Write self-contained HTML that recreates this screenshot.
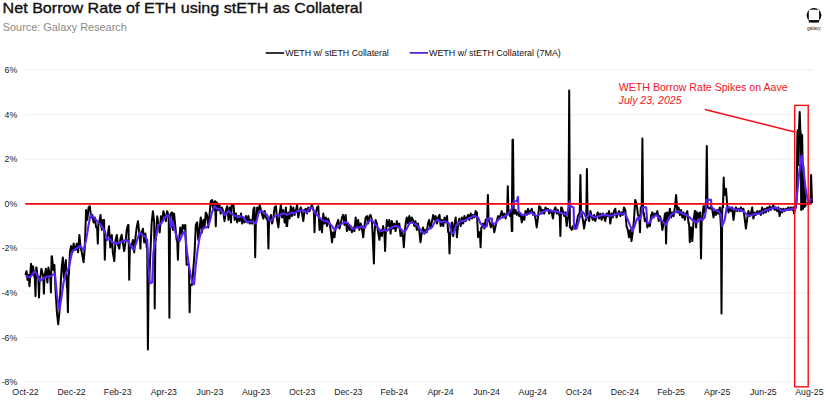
<!DOCTYPE html>
<html lang="en"><head><meta charset="utf-8"><title>Net Borrow Rate of ETH using stETH as Collateral</title>
<style>
html,body{margin:0;padding:0;background:#fff;}
svg{display:block;font-family:"Liberation Sans",Arial,sans-serif;}
.ax text{font-size:8.75px;fill:#1a1a1a;}
</style></head><body>
<svg width="826" height="404" viewBox="0 0 826 404">
<rect width="826" height="404" fill="#fff"/>
<text x="2.6" y="13.2" font-size="14.6" fill="#111" stroke="#111" stroke-width="0.35" textLength="359.8" lengthAdjust="spacingAndGlyphs">Net Borrow Rate of ETH using stETH as Collateral</text>
<text x="2.8" y="30.9" font-size="11.6" fill="#8a8a8a" textLength="124" lengthAdjust="spacingAndGlyphs">Source: Galaxy Research</text>
<g id="logo">
<circle cx="814" cy="15.3" r="7.4" fill="#0a0a0a"/>
<rect x="808.8" y="9.7" width="10.3" height="10.6" fill="#fff"/>
<rect x="808.8" y="20.3" width="10.3" height="2.4" fill="#0a0a0a"/>
<rect x="806" y="22.7" width="16" height="1.5" fill="#fff"/>
<text x="806.9" y="29.7" font-size="4.8" fill="#222" textLength="13.7" lengthAdjust="spacingAndGlyphs">galaxy</text>
</g>
<g stroke="#ececec" stroke-width="0.9"><line x1="25.2" x2="813.5" y1="70.12" y2="70.12"/><line x1="25.2" x2="813.5" y1="114.68" y2="114.68"/><line x1="25.2" x2="813.5" y1="159.24" y2="159.24"/><line x1="25.2" x2="813.5" y1="203.80" y2="203.80"/><line x1="25.2" x2="813.5" y1="248.36" y2="248.36"/><line x1="25.2" x2="813.5" y1="292.92" y2="292.92"/><line x1="25.2" x2="813.5" y1="337.48" y2="337.48"/><line x1="25.2" x2="813.5" y1="382.04" y2="382.04"/></g>
<g class="ax"><text x="17.2" y="73.22" text-anchor="end">6%</text><text x="17.2" y="117.78" text-anchor="end">4%</text><text x="17.2" y="162.34" text-anchor="end">2%</text><text x="17.2" y="206.90" text-anchor="end">0%</text><text x="17.2" y="251.46" text-anchor="end">-2%</text><text x="17.2" y="296.02" text-anchor="end">-4%</text><text x="17.2" y="340.58" text-anchor="end">-6%</text><text x="17.2" y="385.14" text-anchor="end">-8%</text><text x="25.50" y="394.9" text-anchor="middle">Oct-22</text><text x="71.61" y="394.9" text-anchor="middle">Dec-22</text><text x="117.72" y="394.9" text-anchor="middle">Feb-23</text><text x="163.84" y="394.9" text-anchor="middle">Apr-23</text><text x="209.95" y="394.9" text-anchor="middle">Jun-23</text><text x="256.06" y="394.9" text-anchor="middle">Aug-23</text><text x="302.17" y="394.9" text-anchor="middle">Oct-23</text><text x="348.28" y="394.9" text-anchor="middle">Dec-23</text><text x="394.39" y="394.9" text-anchor="middle">Feb-24</text><text x="440.51" y="394.9" text-anchor="middle">Apr-24</text><text x="486.62" y="394.9" text-anchor="middle">Jun-24</text><text x="532.73" y="394.9" text-anchor="middle">Aug-24</text><text x="578.84" y="394.9" text-anchor="middle">Oct-24</text><text x="624.95" y="394.9" text-anchor="middle">Dec-24</text><text x="671.06" y="394.9" text-anchor="middle">Feb-25</text><text x="717.18" y="394.9" text-anchor="middle">Apr-25</text><text x="763.29" y="394.9" text-anchor="middle">Jun-25</text><text x="809.40" y="394.9" text-anchor="middle">Aug-25</text></g>
<line x1="265.7" x2="284.2" y1="53" y2="53" stroke="#000" stroke-width="1.6"/>
<text x="285.2" y="56" font-size="8.8" fill="#111" textLength="103.6" lengthAdjust="spacingAndGlyphs">WETH w/ stETH Collateral</text>
<line x1="409.7" x2="428" y1="52.9" y2="52.9" stroke="#4f18dc" stroke-width="1.7"/>
<text x="429" y="56" font-size="8.8" fill="#111" textLength="131.8" lengthAdjust="spacingAndGlyphs">WETH w/ stETH Collateral (7MA)</text>
<polyline fill="none" stroke="#000" stroke-width="2" stroke-linejoin="round" points="25.5,274.9 26.5,271.2 27.5,279.9 28.5,274.9 29.5,286.2 31.0,263.7 32.0,274.9 33.0,266.2 34.5,277.4 34.8,277.4 35.5,296.1 36.2,267.5 36.5,267.5 37.5,276.2 38.3,276.2 39.0,297.4 39.7,277.4 40.4,277.4 41.4,268.7 42.9,274.9 43.2,274.9 43.9,293.6 44.6,274.9 44.9,274.9 45.9,268.7 47.4,282.4 48.4,267.5 49.9,274.9 50.2,274.9 50.9,292.4 51.6,256.2 51.9,256.2 53.4,270.0 54.4,265.0 55.4,287.4 56.9,312.3 58.2,324.3 59.4,312.3 60.9,279.9 61.9,265.0 62.9,257.5 63.9,277.4 64.9,267.5 65.9,260.0 66.9,287.4 67.2,287.4 67.9,312.3 68.6,274.9 68.9,274.9 69.9,252.3 71.1,246.1 72.4,252.3 73.6,243.6 75.4,249.9 76.9,243.6 78.1,252.3 79.4,234.9 80.6,247.4 81.8,252.3 83.6,262.3 84.8,247.4 86.1,210.0 87.3,219.9 88.6,207.5 89.8,206.2 91.1,217.4 92.3,214.9 93.6,222.4 94.8,217.4 96.1,227.4 97.1,227.4 97.8,243.6 98.5,222.4 99.3,222.4 100.5,214.9 101.8,229.9 103.0,219.9 104.1,219.9 104.8,259.8 105.5,239.9 106.3,239.9 107.8,234.9 109.0,226.2 110.3,247.4 111.8,234.9 112.8,252.3 114.3,261.1 115.5,239.9 116.8,234.9 118.0,244.9 119.3,248.6 120.5,238.6 121.7,234.9 123.0,243.6 124.2,251.1 125.5,242.4 126.7,229.9 128.0,224.9 128.5,224.9 129.2,279.8 129.9,247.4 130.5,247.4 131.7,244.9 133.0,239.9 134.2,252.3 135.5,237.4 136.7,227.4 138.0,221.2 139.2,232.4 139.7,232.4 140.4,248.6 141.1,232.4 141.7,232.4 142.9,228.7 144.2,242.4 145.4,233.6 146.7,247.4 147.2,247.4 147.9,349.6 148.6,282.3 149.2,282.3 150.4,252.3 151.7,222.4 152.9,211.2 154.2,222.4 154.7,308.5 155.4,239.9 155.9,239.9 157.2,216.2 158.4,224.9 159.7,232.4 160.9,216.2 162.1,222.4 163.4,211.2 164.6,214.9 165.9,221.2 167.1,211.2 168.4,214.9 168.7,214.9 169.4,317.7 170.1,214.9 170.4,214.9 171.6,212.4 172.2,212.4 172.9,229.9 173.6,213.7 174.1,213.7 175.4,227.4 176.6,239.9 177.2,239.9 177.9,259.8 178.6,239.9 179.1,239.9 180.3,227.4 181.6,233.6 182.8,224.9 184.1,228.7 185.3,224.9 186.6,264.8 188.9,264.8 189.6,312.2 190.3,284.8 192.1,284.8 194.6,252.3 195.8,224.9 197.1,222.4 198.3,239.9 199.6,227.4 200.8,217.4 202.0,232.4 203.3,219.9 204.5,227.4 205.8,212.4 207.0,214.9 208.3,227.4 209.5,214.9 210.8,201.2 212.0,200.0 213.3,210.0 214.5,201.2 215.1,201.2 215.8,226.2 216.5,202.5 217.0,202.5 218.3,210.0 219.5,205.0 220.7,213.7 222.0,207.5 223.2,211.2 224.5,221.2 226.0,210.0 227.2,206.2 228.5,219.9 229.7,207.4 230.3,207.4 231.0,222.4 231.7,204.9 232.2,204.9 233.5,204.9 234.7,219.9 236.0,213.6 237.2,222.4 238.5,216.1 239.7,221.1 241.0,213.6 242.2,223.6 243.5,217.4 244.7,222.4 246.0,216.1 247.2,222.4 248.4,216.1 249.7,223.6 250.9,219.9 252.2,223.6 253.4,209.9 254.2,207.4 254.5,207.4 255.2,257.3 255.9,219.9 256.2,219.9 257.2,207.4 258.4,212.4 259.7,204.9 260.9,209.9 262.2,214.9 263.4,218.6 264.7,211.1 265.9,217.4 267.1,219.9 267.7,219.9 268.4,248.6 269.1,219.9 269.6,219.9 270.9,214.9 272.1,223.6 273.4,217.4 274.6,207.4 275.9,206.2 277.1,219.9 278.4,227.4 279.6,213.6 280.9,204.9 282.1,217.4 283.4,209.9 284.6,222.4 285.2,222.4 285.9,207.4 286.6,226.1 287.1,226.1 288.3,212.4 289.6,218.6 290.8,206.2 292.1,216.1 293.3,207.4 294.6,214.9 295.8,211.1 297.1,204.9 298.3,217.4 299.6,211.1 300.8,207.4 302.1,213.6 303.3,221.1 304.6,209.9 305.8,208.7 307.0,213.6 308.3,207.4 309.5,211.1 310.8,207.4 312.0,204.9 313.3,209.9 313.8,209.9 314.5,232.3 315.2,213.6 315.8,213.6 317.0,207.4 318.3,206.2 319.5,229.9 320.8,219.9 322.0,232.3 323.3,213.6 324.5,223.6 325.8,217.4 327.0,226.1 328.2,218.6 329.5,223.6 330.7,229.9 332.0,242.3 333.2,232.3 334.5,237.3 335.7,227.4 337.0,223.6 338.2,219.9 339.5,228.6 340.7,223.6 342.0,217.4 343.2,214.9 344.5,224.9 345.7,214.9 346.9,231.1 348.2,223.6 349.4,229.9 350.7,226.1 351.9,232.3 353.2,227.4 354.4,231.1 355.7,217.4 356.9,227.4 358.2,219.9 359.4,229.9 360.7,223.6 361.9,228.6 363.2,237.3 364.4,226.1 365.7,217.4 366.9,216.1 368.1,223.6 369.4,216.1 370.6,214.9 371.9,219.9 373.1,244.8 373.9,263.5 374.6,232.3 375.6,219.9 376.9,223.6 378.1,232.3 379.4,239.8 380.6,229.9 381.9,236.1 383.1,226.1 384.4,232.3 385.1,251.0 385.8,232.3 386.1,232.3 386.8,219.9 388.1,226.1 389.3,219.9 390.6,233.6 391.8,221.1 393.1,228.6 394.3,223.6 395.6,231.1 396.8,221.1 398.1,227.4 399.3,223.6 400.6,236.1 401.8,232.3 403.1,237.3 403.8,247.3 404.8,232.3 405.6,223.6 406.8,217.4 408.0,223.6 409.3,216.1 410.5,222.4 411.8,217.4 413.0,219.9 414.3,226.1 415.5,221.1 416.8,229.9 418.0,223.6 419.3,231.1 420.5,242.3 421.8,232.3 423.0,227.4 424.3,233.6 425.5,229.9 426.7,232.3 428.0,223.6 429.2,219.9 430.5,228.6 432.0,221.1 433.2,214.9 434.5,219.9 435.7,216.1 437.0,223.6 438.2,217.4 439.5,214.9 440.7,226.1 442.0,219.9 443.2,226.1 444.5,217.4 445.7,222.4 447.0,216.1 448.2,232.3 448.8,232.3 449.5,253.5 450.2,232.3 450.7,232.3 452.0,222.4 453.2,236.1 454.4,224.9 455.7,217.4 456.9,237.3 458.2,223.6 459.4,218.6 460.7,226.1 461.9,217.4 463.2,223.6 464.4,216.1 465.7,221.1 466.9,217.4 468.2,214.9 469.4,219.9 470.7,213.6 471.9,218.6 473.1,214.9 474.4,217.4 475.6,211.1 476.9,212.4 478.1,237.3 479.4,232.3 479.9,232.3 480.6,247.3 481.3,227.4 481.9,227.4 483.1,223.6 484.4,228.6 485.6,219.9 486.9,218.6 487.2,218.6 487.9,194.9 488.6,219.9 488.9,219.9 489.9,223.6 490.9,227.4 491.9,222.4 493.1,224.9 494.3,232.3 495.6,226.1 496.8,221.1 498.1,216.1 499.3,218.6 500.6,214.9 501.8,211.1 503.1,217.4 504.3,213.6 505.6,218.6 506.8,213.6 507.1,213.6 507.8,186.2 508.5,212.4 508.8,212.4 509.8,216.1 510.8,209.9 511.1,209.9 511.8,231.1 512.5,139.8 512.3,231.1 513.0,139.8 513.7,213.6 514.3,213.6 515.5,209.9 516.8,214.9 518.0,212.4 519.3,216.1 520.5,213.6 521.8,222.4 523.0,216.1 524.3,219.9 525.5,211.1 526.8,214.9 528.0,208.7 529.3,213.6 530.5,211.1 531.8,208.7 533.0,214.9 534.2,212.4 535.5,218.6 536.7,227.4 538.0,217.4 539.2,206.2 540.5,207.4 541.7,213.6 543.0,209.9 544.2,213.6 545.5,207.4 546.7,209.9 548.0,208.7 549.2,213.6 550.5,209.9 551.7,212.4 552.9,218.6 554.2,209.9 555.4,207.4 556.7,213.6 557.9,209.9 559.2,214.9 559.7,214.9 560.4,236.1 561.1,207.4 561.7,207.4 562.9,211.1 564.2,216.1 565.4,212.4 566.7,226.1 567.9,217.4 568.5,217.4 569.2,90.4 569.9,227.4 570.4,227.4 571.7,229.9 572.9,226.1 574.1,228.6 575.4,227.4 576.6,223.6 577.9,216.1 579.1,213.6 579.7,213.6 580.4,175.0 581.1,213.6 581.6,213.6 582.9,219.9 584.1,228.6 585.4,219.9 586.2,219.9 586.9,169.0 587.6,214.9 587.9,214.9 589.1,221.1 590.4,211.1 591.6,216.1 592.8,219.9 594.1,214.9 595.3,221.1 596.6,216.1 597.8,212.4 599.1,218.6 600.3,213.6 601.6,219.9 602.8,213.6 604.1,217.4 605.3,221.1 606.6,213.6 607.8,216.1 609.1,211.1 610.3,223.6 611.6,213.6 612.8,217.4 614.0,211.1 615.3,208.7 616.5,217.4 617.8,213.6 619.0,211.1 620.3,216.1 621.5,212.4 622.8,214.9 624.0,207.4 625.3,209.9 626.5,226.1 627.8,229.9 629.0,237.3 630.3,229.9 631.5,241.1 632.7,232.3 634.0,219.9 635.2,199.9 636.5,203.7 638.0,214.9 638.7,216.1 639.3,216.1 640.0,232.3 640.7,207.4 641.2,207.4 641.7,207.4 642.4,138.6 643.1,212.4 643.7,212.4 644.9,221.1 646.2,218.6 647.4,227.4 648.7,223.6 649.9,226.1 651.2,214.9 652.4,212.4 653.7,217.4 654.9,213.6 656.2,214.9 657.4,211.1 658.7,221.1 659.9,216.1 661.1,219.9 662.4,229.9 663.6,223.6 664.9,213.6 665.4,213.6 666.1,243.6 666.8,212.4 667.4,212.4 668.6,219.9 669.9,208.7 671.1,217.4 672.4,212.4 673.6,216.1 674.9,207.4 676.1,194.9 677.4,212.4 678.6,207.4 679.9,214.9 681.1,209.9 682.3,217.4 683.6,212.4 684.8,219.9 686.1,213.6 687.3,211.1 688.6,223.6 689.1,223.6 689.8,242.3 690.5,227.4 691.1,227.4 692.3,241.1 693.6,219.9 694.8,211.1 695.4,211.1 696.1,227.4 696.8,212.4 697.3,212.4 698.6,218.6 699.8,212.4 700.3,212.4 701.0,258.5 701.7,219.9 702.3,219.9 703.5,206.2 704.8,212.4 706.0,202.4 706.8,146.1 707.5,207.4 707.8,207.4 709.8,208.7 711.0,206.2 712.3,209.9 713.5,217.4 714.8,211.1 716.0,214.9 717.3,209.9 718.5,213.6 719.8,207.4 721.0,227.4 721.5,313.4 722.2,207.4 722.7,207.4 723.0,207.4 723.7,177.5 724.4,194.9 724.7,194.9 726.0,188.7 727.2,204.9 728.5,212.4 729.7,207.4 731.0,211.1 732.2,207.4 733.5,219.9 734.7,211.1 736.0,207.4 737.2,211.1 738.5,208.7 739.7,211.1 740.9,207.4 742.2,211.1 743.4,208.7 744.7,218.6 745.9,228.6 747.2,218.6 748.4,211.1 749.7,216.1 750.9,213.6 752.2,207.4 753.4,218.6 754.7,212.4 755.9,214.9 757.2,211.1 758.4,213.6 759.7,211.1 760.9,214.9 762.1,207.4 763.4,213.6 764.6,208.7 765.9,212.4 767.1,207.4 768.4,211.1 769.6,206.2 770.9,209.9 772.1,207.4 773.4,204.9 774.6,209.9 775.9,207.4 777.1,211.1 778.4,207.4 779.6,216.1 780.8,208.7 782.1,212.4 783.3,208.7 784.6,211.1 785.8,208.7 787.1,209.9 788.3,207.4 789.6,209.9 790.8,207.4 792.1,209.9 793.3,207.4 794.1,213.6 795.1,207.4 796.0,207.0 796.6,200.0 797.4,131.5 798.0,130.0 798.5,165.0 799.1,127.0 799.7,112.0 800.3,130.0 800.8,134.0 801.2,210.0 801.6,140.0 802.1,135.0 802.6,160.0 803.0,209.0 803.4,166.0 803.9,186.0 804.4,207.0 804.9,182.0 805.4,206.0 806.0,203.0 807.0,204.0 808.0,203.0 809.0,204.0 810.0,202.0 810.4,202.0 811.1,175.0 812.0,203.0"/>
<polyline fill="none" stroke="#5a22f6" stroke-width="2.1" stroke-linejoin="round" points="25.5,276.0 30.0,277.3 35.0,271.0 40.0,281.0 44.9,277.3 51.2,276.0 54.9,273.5 56.9,294.7 59.4,310.4 61.1,299.7 63.6,282.3 66.1,272.3 68.6,268.6 69.9,262.3 72.4,251.1 76.1,248.6 79.9,246.1 83.6,249.9 86.1,239.9 88.6,224.9 90.6,214.9 93.6,217.4 97.3,221.2 99.8,223.7 102.3,227.4 104.8,231.1 107.3,239.9 109.8,238.6 112.3,242.4 116.0,243.6 119.8,242.4 123.5,241.1 127.2,239.9 131.0,246.1 133.5,249.9 136.0,243.6 139.7,232.4 142.2,234.9 144.7,236.1 147.2,239.9 148.4,264.8 149.7,283.5 152.2,282.3 153.4,252.3 155.9,237.4 158.4,224.9 160.9,223.7 163.4,219.9 165.9,216.2 168.4,214.9 169.6,217.4 170.9,227.4 172.6,221.2 174.6,229.9 177.1,237.4 179.6,241.1 182.1,234.9 184.6,231.1 185.8,239.9 187.1,252.3 189.6,269.8 192.1,282.3 194.1,284.3 195.8,264.8 197.6,249.9 199.6,237.4 202.0,229.9 204.5,227.4 207.0,227.4 209.5,222.4 212.0,212.4 214.5,206.2 217.0,208.7 219.5,208.7 222.0,211.2 224.5,214.9 226.0,213.7 228.5,211.1 231.0,213.6 233.5,214.9 236.0,216.1 238.5,217.4 241.0,216.1 243.5,217.4 246.0,221.1 248.4,222.4 250.9,221.1 253.4,222.4 255.9,223.6 257.2,218.6 258.4,213.6 259.7,211.1 262.2,211.1 264.7,213.6 267.1,214.9 268.9,219.9 270.9,221.1 272.9,218.6 274.6,216.1 277.1,214.9 279.6,216.1 282.1,213.6 284.6,213.6 287.1,214.9 289.6,213.6 292.1,212.4 294.6,213.6 297.1,211.1 299.6,211.1 302.1,209.9 304.6,211.1 307.0,212.4 309.5,208.7 312.0,207.4 314.5,212.4 317.0,214.9 319.5,217.4 322.0,219.9 324.5,221.1 327.0,221.1 329.5,223.6 332.0,226.1 334.5,229.9 337.0,227.4 339.5,224.9 342.0,223.6 344.5,222.4 346.9,222.4 349.4,224.9 351.9,228.6 354.4,228.6 356.9,227.4 359.4,227.4 361.9,226.1 364.4,228.6 366.9,223.6 369.4,221.1 371.9,219.9 374.4,223.6 376.9,226.1 379.4,229.9 381.9,231.1 384.4,229.9 386.8,231.1 389.3,228.6 391.8,227.4 394.3,226.1 396.8,226.1 399.3,227.4 401.8,229.9 404.3,232.3 406.8,228.6 409.3,223.6 411.8,222.4 414.3,223.6 416.8,224.9 419.3,228.6 421.8,231.1 424.3,233.6 426.7,231.1 429.2,228.6 432.0,227.4 434.5,222.4 437.0,219.9 439.5,221.1 442.0,222.4 444.5,221.1 447.0,222.4 449.5,223.6 451.5,233.6 453.9,232.3 455.7,226.1 458.2,223.6 460.7,221.1 463.2,221.1 465.7,219.9 468.2,218.6 470.7,217.4 473.1,216.1 475.6,216.1 478.1,217.4 480.6,223.6 484.4,227.4 486.9,226.1 487.4,218.6 491.9,218.6 492.3,223.6 495.6,223.6 498.1,219.9 501.8,217.4 505.6,216.1 508.1,213.6 510.6,211.1 512.3,207.4 513.8,201.2 516.8,201.2 518.0,196.9 518.5,211.1 521.8,214.9 525.5,214.9 529.3,213.6 531.8,212.4 534.2,214.9 536.7,216.1 540.5,213.6 544.2,211.1 548.0,209.9 551.7,211.1 555.4,211.1 559.2,212.4 562.9,213.6 566.7,214.9 568.7,207.4 569.7,201.2 570.7,206.2 573.6,207.4 574.1,228.6 576.6,228.6 579.1,219.9 581.6,211.1 584.1,213.6 586.6,218.6 589.1,213.6 591.6,216.1 595.3,217.4 599.1,216.1 602.8,214.9 606.6,214.9 610.3,216.1 614.0,214.9 617.8,213.6 621.5,213.6 625.3,213.6 627.8,219.9 630.3,226.1 632.7,231.1 634.5,226.1 636.5,219.9 638.0,217.4 638.7,219.9 641.2,216.1 642.4,207.4 646.2,207.4 647.4,223.6 649.9,222.4 652.4,217.4 656.2,214.9 659.9,218.6 663.6,222.4 666.1,224.9 668.6,218.6 671.1,214.9 674.9,212.4 678.6,211.1 682.3,213.6 686.1,214.9 689.8,217.4 693.6,221.1 697.3,222.4 699.8,218.6 702.3,219.9 704.8,217.4 706.0,209.9 706.5,199.9 711.0,199.9 711.5,207.4 714.8,209.9 718.5,211.1 721.0,214.9 722.2,226.1 724.7,219.9 726.7,207.4 729.7,207.4 733.5,208.7 737.2,209.9 740.9,209.9 744.7,212.4 748.4,216.1 752.2,214.9 755.9,213.6 759.7,213.6 763.4,211.1 767.1,209.9 770.9,208.7 774.6,207.4 778.4,208.7 782.1,211.1 785.8,209.9 789.6,209.4 793.3,208.7 795.5,208.9 797.5,190.0 799.5,170.0 801.6,155.2 803.5,170.0 805.5,188.0 807.7,200.3 809.4,202.0 811.5,198.5"/>
<g stroke="#fa0a12" fill="none">
<line x1="25.2" x2="812" y1="203.85" y2="203.85" stroke-width="1.8"/>
<rect x="794.7" y="105.4" width="13.5" height="281.4" stroke-width="1.4"/>
<line x1="704.9" y1="109.5" x2="794.7" y2="132" stroke-width="1.5"/>
</g>
<text x="618.8" y="90.6" font-size="10.5" fill="#f01620" textLength="168.8" lengthAdjust="spacingAndGlyphs">WETH Borrow Rate Spikes on Aave</text>
<text x="618.6" y="103.5" font-size="10.5" font-style="italic" fill="#f01620" textLength="63" lengthAdjust="spacingAndGlyphs">July 23, 2025</text>
</svg>
</body></html>
